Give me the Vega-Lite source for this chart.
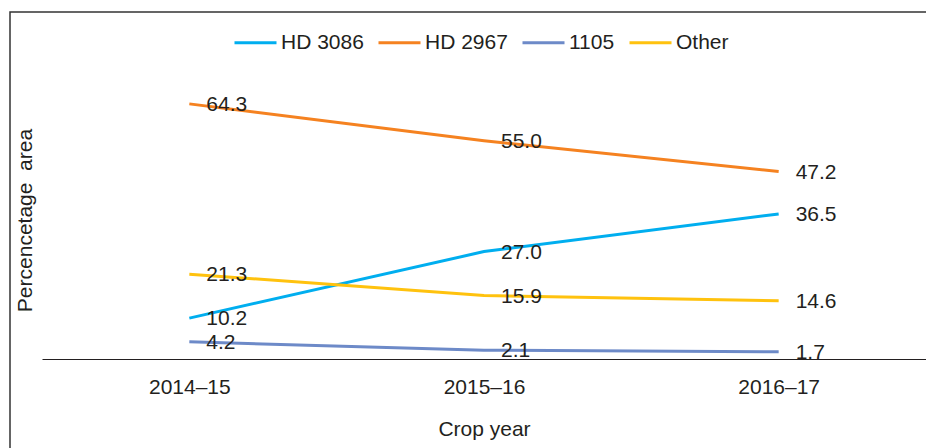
{
  "$schema": "https://vega.github.io/schema/vega-lite/v6.json",
  "autosize": {"type": "none"},
  "padding": {"left": 10, "top": 12, "right": 0, "bottom": 0},
  "width": 916,
  "height": 436,
  "background": "white",
  "config": {
    "font": "Liberation Sans",
    "view": {"stroke": "#333333", "strokeWidth": 1.5, "strokeDash": [916, 1352, 436]}
  },
  "data": {
    "values": [
      {"year": "2014–15", "variety": "HD 3086", "value": 10.2},
      {"year": "2015–16", "variety": "HD 3086", "value": 27.0},
      {"year": "2016–17", "variety": "HD 3086", "value": 36.5},
      {"year": "2014–15", "variety": "HD 2967", "value": 64.3},
      {"year": "2015–16", "variety": "HD 2967", "value": 55.0},
      {"year": "2016–17", "variety": "HD 2967", "value": 47.2},
      {"year": "2014–15", "variety": "1105", "value": 4.2},
      {"year": "2015–16", "variety": "1105", "value": 2.1},
      {"year": "2016–17", "variety": "1105", "value": 1.7},
      {"year": "2014–15", "variety": "Other", "value": 21.3},
      {"year": "2015–16", "variety": "Other", "value": 15.9},
      {"year": "2016–17", "variety": "Other", "value": 14.6}
    ]
  },
  "encoding": {
    "x": {
      "field": "year",
      "type": "ordinal",
      "scale": {"type": "point", "padding": 0.5, "range": [32, 916]},
      "axis": {
        "title": "Crop year",
        "orient": "bottom",
        "offset": -89,
        "labelAngle": 0,
        "domainColor": "#231F20",
        "domainWidth": 1.2,
        "ticks": false,
        "tickSize": 0,
        "grid": false,
        "labelFontSize": 21,
        "labelColor": "#231F20",
        "labelPadding": 17,
        "titleFontSize": 21,
        "titleFontWeight": "normal",
        "titleColor": "#231F20",
        "titlePadding": 21
      }
    },
    "y": {
      "field": "value",
      "type": "quantitative",
      "scale": {"domain": [0, 70], "range": [346.5, 69.3]},
      "axis": {
        "title": "Percencetage\u00a0 area",
        "domain": false,
        "ticks": false,
        "labels": false,
        "grid": false,
        "titleFontSize": 21,
        "titleFontWeight": "normal",
        "titleColor": "#231F20",
        "titleX": 15,
        "titleY": 208,
        "titleAlign": "center",
        "titleBaseline": "middle",
        "titleAngle": -90
      }
    },
    "color": {
      "field": "variety",
      "type": "nominal",
      "scale": {
        "domain": ["HD 3086", "HD 2967", "1105", "Other"],
        "range": ["#00AEEF", "#F58220", "#6D8AC8", "#FFC20E"]
      },
      "legend": {
        "title": null,
        "orient": "none",
        "direction": "horizontal",
        "legendX": 223,
        "legendY": 8,
        "padding": 0,
        "symbolType": "stroke",
        "symbolSize": 1764,
        "symbolStrokeWidth": 3,
        "labelFontSize": 21,
        "labelColor": "#231F20",
        "labelOffset": 3,
        "columnPadding": 8
      }
    }
  },
  "layer": [
    {"mark": {"type": "line", "strokeWidth": 3}},
    {
      "mark": {"type": "text", "align": "left", "baseline": "middle", "dx": 17, "dy": 1, "fontSize": 21, "color": "#231F20"},
      "encoding": {
        "text": {"field": "value", "type": "quantitative", "format": ".1f"},
        "color": {"value": "#231F20"}
      }
    }
  ]
}
